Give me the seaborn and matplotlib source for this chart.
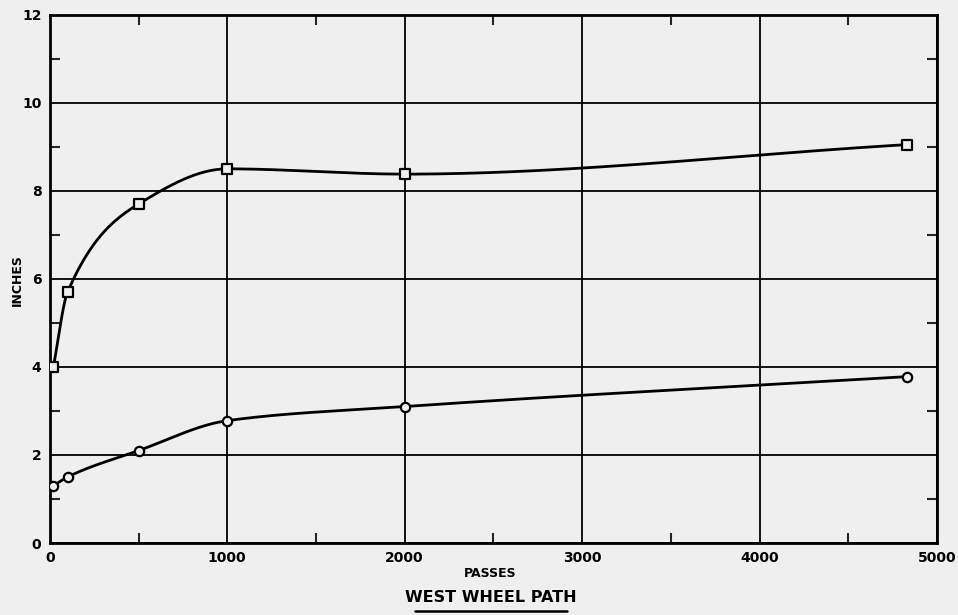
import numpy as np
import pandas as pd
import matplotlib
matplotlib.use("Agg")
import matplotlib.pyplot as plt
import seaborn as sns
from matplotlib.ticker import MultipleLocator

# values
passes = [20, 100, 500, 1000, 2000, 4830]
upper_inches = [4.0, 5.7, 7.7, 8.5, 8.38, 9.05]
lower_inches = [1.3, 1.5, 2.1, 2.78, 3.1, 3.78]

x_ticks = [0, 1000, 2000, 3000, 4000, 5000]
y_ticks = [0, 2, 4, 6, 8, 10, 12]


def smooth(x, y, n=500):
    # monotone cubic (pchip) through the points, only used to draw the curve
    x = np.asarray(x, float)
    y = np.asarray(y, float)
    h = np.diff(x)
    d = np.diff(y) / h
    k = len(x)
    m = np.zeros(k)
    for i in range(1, k - 1):
        if d[i - 1] * d[i] > 0:
            w1 = 2 * h[i] + h[i - 1]
            w2 = h[i] + 2 * h[i - 1]
            m[i] = (w1 + w2) / (w1 / d[i - 1] + w2 / d[i])
    m[0] = d[0]
    m[-1] = d[-1]
    xs = np.linspace(x[0], x[-1], n)
    idx = np.clip(np.searchsorted(x, xs) - 1, 0, k - 2)
    hh = h[idx]
    t = (xs - x[idx]) / hh
    h00 = 2 * t**3 - 3 * t**2 + 1
    h10 = t**3 - 2 * t**2 + t
    h01 = -2 * t**3 + 3 * t**2
    h11 = t**3 - t**2
    ys = h00 * y[idx] + h10 * hh * m[idx] + h01 * y[idx + 1] + h11 * hh * m[idx + 1]
    return xs, ys


sns.set_style("white")
plt.rcParams["font.family"] = ["DejaVu Sans"]

bg = "#efefef"
fig = plt.figure(figsize=(9.58, 6.15), dpi=100, facecolor=bg)
ax = fig.add_axes([0.052, 0.117, 0.926, 0.859])
ax.set_facecolor(bg)

for ys, mk in [(upper_inches, "s"), (lower_inches, "o")]:
    cx, cy = smooth(passes, ys)
    sns.lineplot(x=cx, y=cy, ax=ax, color="black", lw=2, sort=False)
    df = pd.DataFrame({"passes": passes, "inches": ys})
    sns.scatterplot(data=df, x="passes", y="inches", ax=ax, marker=mk, s=45,
                    facecolor=bg, edgecolor="black", linewidth=1.6, zorder=5)

ax.set_xlim(0, 5000)
ax.set_ylim(0, 12)
ax.set_xticks(x_ticks)
ax.set_yticks(y_ticks)
ax.xaxis.set_minor_locator(MultipleLocator(500))
ax.yaxis.set_minor_locator(MultipleLocator(1))
ax.grid(True, which="major", color="black", lw=1.3)
ax.tick_params(which="major", length=0, labelsize=10, pad=6, labelcolor="black")
ax.tick_params(which="minor", direction="in", length=7, width=1.5,
               top=True, right=True, bottom=True, left=True)
for lab in ax.get_xticklabels() + ax.get_yticklabels():
    lab.set_fontweight("bold")
for s in ax.spines.values():
    s.set_visible(True)
    s.set_color("black")
    s.set_linewidth(2)

ax.set_xlabel("")
ax.set_ylabel("")
fig.text(0.018, 0.545, "INCHES", rotation=90, ha="center", va="center",
         fontsize=9, fontweight="bold", color="black")
fig.text(0.512, 0.068, "PASSES", ha="center", va="center", fontsize=9,
         fontweight="bold", color="black")
fig.text(0.512, 0.029, "WEST WHEEL PATH", ha="center", va="center",
         fontsize=11.5, fontweight="bold", color="black")
fig.add_artist(plt.Line2D([0.433, 0.592], [0.007, 0.007], color="black", lw=1.8))

fig.savefig("out.png", dpi=100, facecolor=fig.get_facecolor())
